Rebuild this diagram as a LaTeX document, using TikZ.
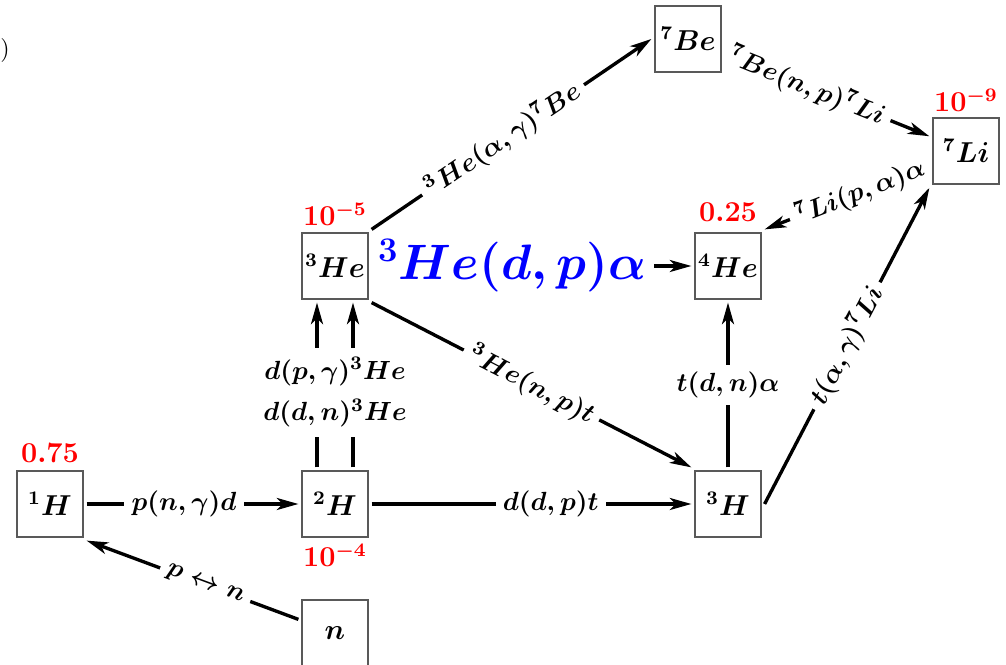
\documentclass[tikz,border=0pt]{standalone}
\usepackage{amsmath}
\usetikzlibrary{arrows.meta,calc,backgrounds}
\begin{document}
\begin{tikzpicture}[x=0.41667pt,y=-0.41667pt,
  nuc/.style={draw=black!65, line width=0.6pt, minimum size=27.5pt, inner sep=0pt, outer sep=1.5pt, font=\large\boldmath},
  rxn/.style={line width=1.4pt, -{Stealth[length=9pt,width=5pt,inset=2.5pt]}},
  lbl/.style={fill=white, inner sep=3pt, font=\fontsize{11}{13}\selectfont\boldmath},
  dbl/.style={fill=white, inner xsep=3pt, inner ysep=4pt, font=\fontsize{11}{13}\selectfont\boldmath},
  abund/.style={text=red, font=\large\bfseries\boldmath}]
\useasboundingbox (0,0) rectangle (1006,665);
% nuclei
\node[nuc] (H1) at (50,504) {$^1H$};
\node[nuc] (H2) at (335,504) {$^2H$};
\node[nuc] (n) at (335,633) {$n$};
\node[nuc] (H3) at (728,504) {$^3H$};
\node[nuc] (He3) at (335,266) {$^3He$};
\node[nuc] (He4) at (728,266) {$^4He$};
\node[nuc] (Be7) at (688,39) {$^7Be$};
\node[nuc] (Li7) at (966,151) {$^7Li$};
% abundances
\node[abund] (aH1) at (50,453) {$0.75$};
\node[abund] (aH2) at (335,555) {$10^{-4}$};
\node[abund] (aHe3) at (335,214) {$10^{-5}$};
\node[abund] (aHe4) at (728,212) {$0.25$};
\node[abund] (aLi7) at (966,100) {$10^{-9}$};
% stray character
\node (paren) at (5,51) {)};
% reactions
\begin{pgfonlayer}{background}
\draw[rxn] (H1) -- (H2) node[lbl,pos=0.46] {$p(n,\gamma)d$};
\draw[rxn] (n) -- (H1.south east) node[lbl,sloped,pos=0.44] {$p\leftrightarrow n$};
\draw[rxn] (H2) -- (H3) node[lbl,pos=0.56] {$d(d,p)t$};
\draw[rxn] ([xshift=-7.5pt]H2.north) -- ([xshift=-7.5pt]He3.south);
\draw[rxn] ([xshift=7.5pt]H2.north) -- ([xshift=7.5pt]He3.south);
\path (H2) -- (He3) node[dbl,pos=0.33] {$d(d,n)^3He$} node[dbl,pos=0.58] {$d(p,\gamma)^3He$};
\draw[rxn] (He3.south east) -- (H3.north west) node[lbl,sloped,midway] {$^3He(n,p)t$};
\draw[rxn] (He3.north east) -- (Be7.west) node[lbl,sloped,pos=0.47] {$^3He(\alpha,\gamma)^7Be$};
\draw[rxn] (Be7) -- (Li7) node[lbl,sloped,pos=0.40] {$^7Be(n,p)^7Li$};
\draw[rxn,shorten <=6pt] (He3) -- (He4) node[lbl,pos=0.44,text=blue,font=\huge\boldmath] {$^3He(d,p)\alpha$};
\draw[rxn] (H3) -- (He4) node[lbl,midway] {$t(d,n)\alpha$};
\draw[rxn] (H3.east) -- (Li7.south west) node[lbl,sloped,midway] {$t(\alpha,\gamma)^7Li$};
\draw[rxn] (Li7) -- (He4.north east) node[lbl,sloped,pos=0.42] {$^7Li(p,\alpha)\alpha$};
\end{pgfonlayer}
\end{tikzpicture}
\end{document}
